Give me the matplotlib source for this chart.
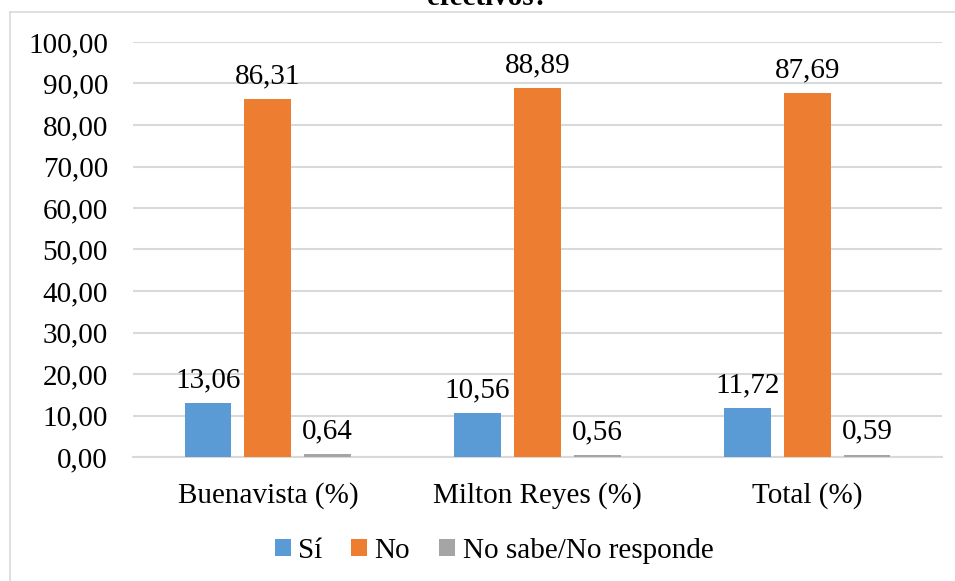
import matplotlib
matplotlib.use("Agg")
import matplotlib.pyplot as plt
import numpy as np
from matplotlib.lines import Line2D

plt.rcParams['font.family'] = ['Liberation Serif', 'DejaVu Serif']

categories = ["Buenavista (%)", "Milton Reyes (%)", "Total (%)"]
series_names = ["Sí", "No", "No sabe/No responde"]
si_values = [13.06, 10.56, 11.72]
no_values = [86.31, 88.89, 87.69]
ns_values = [0.64, 0.56, 0.59]
y_ticks = [0, 10, 20, 30, 40, 50, 60, 70, 80, 90, 100]
title_text = "efectivos?"

colors = ["#5B9BD5", "#ED7D31", "#A5A5A5"]
grid_color = "#D9D9D9"
fs = 21

fig = plt.figure(figsize=(9.55, 5.81), dpi=100)
ax = fig.add_axes([133 / 955, 1 - 457 / 581, (942 - 133) / 955, (457 - 42) / 581])

x = np.arange(len(categories))
step = 0.222
width = 0.174
series = [si_values, no_values, ns_values]
for i, (vals, name, col) in enumerate(zip(series, series_names, colors)):
    bars = ax.bar(x + (i - 1) * step, vals, width, color=col, label=name, zorder=3)
    ax.bar_label(bars, labels=[f"{v:.2f}".replace(".", ",") for v in vals],
                 padding=7, fontsize=fs, color="#000000")

ax.set_xlim(-0.5, len(categories) - 0.5)
ax.set_ylim(0, 100)
ax.set_yticks(y_ticks)
ax.set_yticklabels([f"{t:.2f}".replace(".", ",") for t in y_ticks])
ax.set_xticks(x)
ax.set_xticklabels(categories)
ax.tick_params(axis="y", length=0, pad=18, labelsize=fs)
ax.tick_params(axis="x", length=0, pad=18, labelsize=fs)
ax.grid(axis="y", color=grid_color, linewidth=1.5, zorder=0)
for s in ["top", "right", "left"]:
    ax.spines[s].set_visible(False)
ax.spines["bottom"].set_color(grid_color)
ax.spines["bottom"].set_linewidth(1.5)

# chart frame (top and left edges)
fig.add_artist(Line2D([10 / 955, 1], [1 - 12 / 581, 1 - 12 / 581],
                      transform=fig.transFigure, color=grid_color, linewidth=1.2))
fig.add_artist(Line2D([10 / 955, 10 / 955], [0, 1 - 12 / 581],
                      transform=fig.transFigure, color=grid_color, linewidth=1.2))

fig.text(488 / 955, 1 - 5 / 581, title_text, ha="center", va="baseline",
         fontsize=fs, fontweight="bold")

handles, labels = ax.get_legend_handles_labels()
fig.legend(handles, labels, loc="center", bbox_to_anchor=(494 / 955, 1 - 551 / 581),
           ncol=3, frameon=False, fontsize=fs, handlelength=0.55, handleheight=0.55,
           handletextpad=0.25, columnspacing=1.0, borderaxespad=0)

fig.savefig("out.png", dpi=100)
